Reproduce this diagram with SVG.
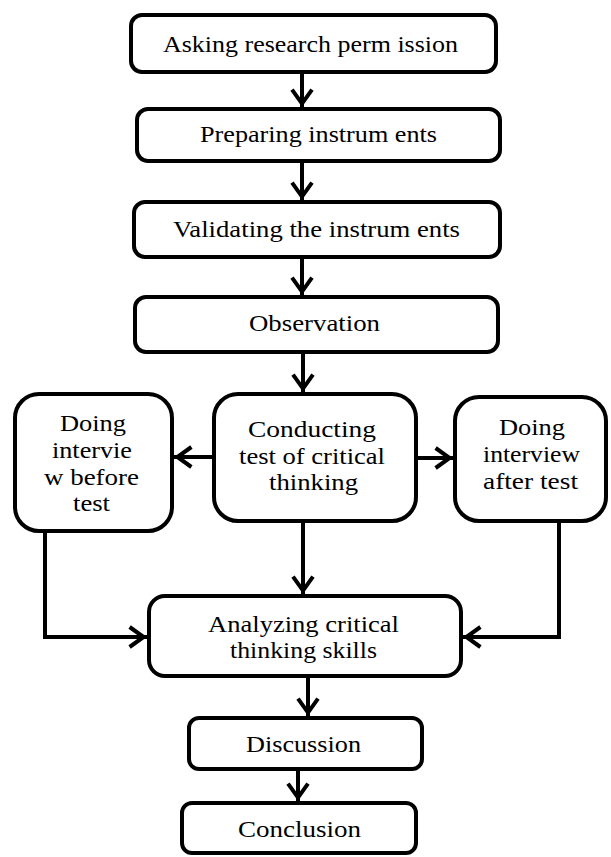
<svg xmlns="http://www.w3.org/2000/svg" width="611" height="857" viewBox="0 0 611 857">
<style>
.box{fill:#fff;stroke:#000;stroke-width:4}
.t{font-family:"Liberation Serif","Times New Roman",serif;font-size:24px;fill:#000;text-anchor:middle}
.c{fill:none;stroke:#000;stroke-width:4;marker-end:url(#ah)}
</style>
<defs>
<marker id="ah" markerUnits="userSpaceOnUse" viewBox="-18 -14 24 28" markerWidth="24" markerHeight="28" refX="3.4" refY="0" orient="auto">
<path d="M-14,-10 L0,0 L-14,10" fill="none" stroke="#000" stroke-width="4"/>
</marker>
</defs>
<rect width="611" height="857" fill="#fff"/>
<g id="connectors">
<path class="c" d="M302,74 V107"/>
<path class="c" d="M302,163 V200"/>
<path class="c" d="M302,259 V295"/>
<path class="c" d="M303,354 V392"/>
<path class="c" d="M212,457 H174"/>
<path class="c" d="M418,458 H453"/>
<path class="c" d="M303,523 V594"/>
<path class="c" d="M45,533 V637 H147"/>
<path class="c" d="M559,523 V637 H463"/>
<path class="c" d="M308,678 V716"/>
<path class="c" d="M298,771 V801"/>
</g>
<g id="n1"><rect class="box" x="131" y="15" width="365" height="57" rx="11"/>
<text class="t" x="310.5" y="52" textLength="295" lengthAdjust="spacingAndGlyphs">Asking research perm ission</text></g>
<g id="n2"><rect class="box" x="137" y="109" width="363" height="52" rx="11"/>
<text class="t" x="318.5" y="142" textLength="237" lengthAdjust="spacingAndGlyphs">Preparing instrum ents</text></g>
<g id="n3"><rect class="box" x="134" y="202" width="366" height="55" rx="11"/>
<text class="t" x="316.5" y="237" textLength="287" lengthAdjust="spacingAndGlyphs">Validating the instrum ents</text></g>
<g id="n4"><rect class="box" x="135" y="297" width="363" height="55" rx="11"/>
<text class="t" x="314.5" y="331" textLength="131" lengthAdjust="spacingAndGlyphs">Observation</text></g>
<g id="n5"><rect class="box" x="15" y="394" width="157" height="137" rx="24"/>
<text class="t" x="93" y="431" textLength="66" lengthAdjust="spacingAndGlyphs">Doing</text>
<text class="t" x="92" y="458" textLength="80" lengthAdjust="spacingAndGlyphs">intervie</text>
<text class="t" x="91.5" y="485" textLength="95" lengthAdjust="spacingAndGlyphs">w before</text>
<text class="t" x="91.5" y="511" textLength="37" lengthAdjust="spacingAndGlyphs">test</text></g>
<g id="n6"><rect class="box" x="214" y="394" width="202" height="127" rx="24"/>
<text class="t" x="312" y="437" textLength="128" lengthAdjust="spacingAndGlyphs">Conducting</text>
<text class="t" x="312" y="464" textLength="146" lengthAdjust="spacingAndGlyphs">test of critical</text>
<text class="t" x="313.5" y="490" textLength="89" lengthAdjust="spacingAndGlyphs">thinking</text></g>
<g id="n7"><rect class="box" x="455" y="397" width="151" height="124" rx="24"/>
<text class="t" x="532" y="435" textLength="66" lengthAdjust="spacingAndGlyphs">Doing</text>
<text class="t" x="531.5" y="462" textLength="97" lengthAdjust="spacingAndGlyphs">interview</text>
<text class="t" x="530.5" y="489" textLength="95" lengthAdjust="spacingAndGlyphs">after test</text></g>
<g id="n8"><rect class="box" x="149" y="596" width="312" height="80" rx="16"/>
<text class="t" x="303.5" y="632" textLength="191" lengthAdjust="spacingAndGlyphs">Analyzing critical</text>
<text class="t" x="303.5" y="658" textLength="147" lengthAdjust="spacingAndGlyphs">thinking skills</text></g>
<g id="n9"><rect class="box" x="189" y="718" width="233" height="51" rx="10"/>
<text class="t" x="303.5" y="752" textLength="115" lengthAdjust="spacingAndGlyphs">Discussion</text></g>
<g id="n10"><rect class="box" x="182" y="803" width="234" height="50" rx="10"/>
<text class="t" x="299.5" y="837" textLength="123" lengthAdjust="spacingAndGlyphs">Conclusion</text></g>
</svg>
